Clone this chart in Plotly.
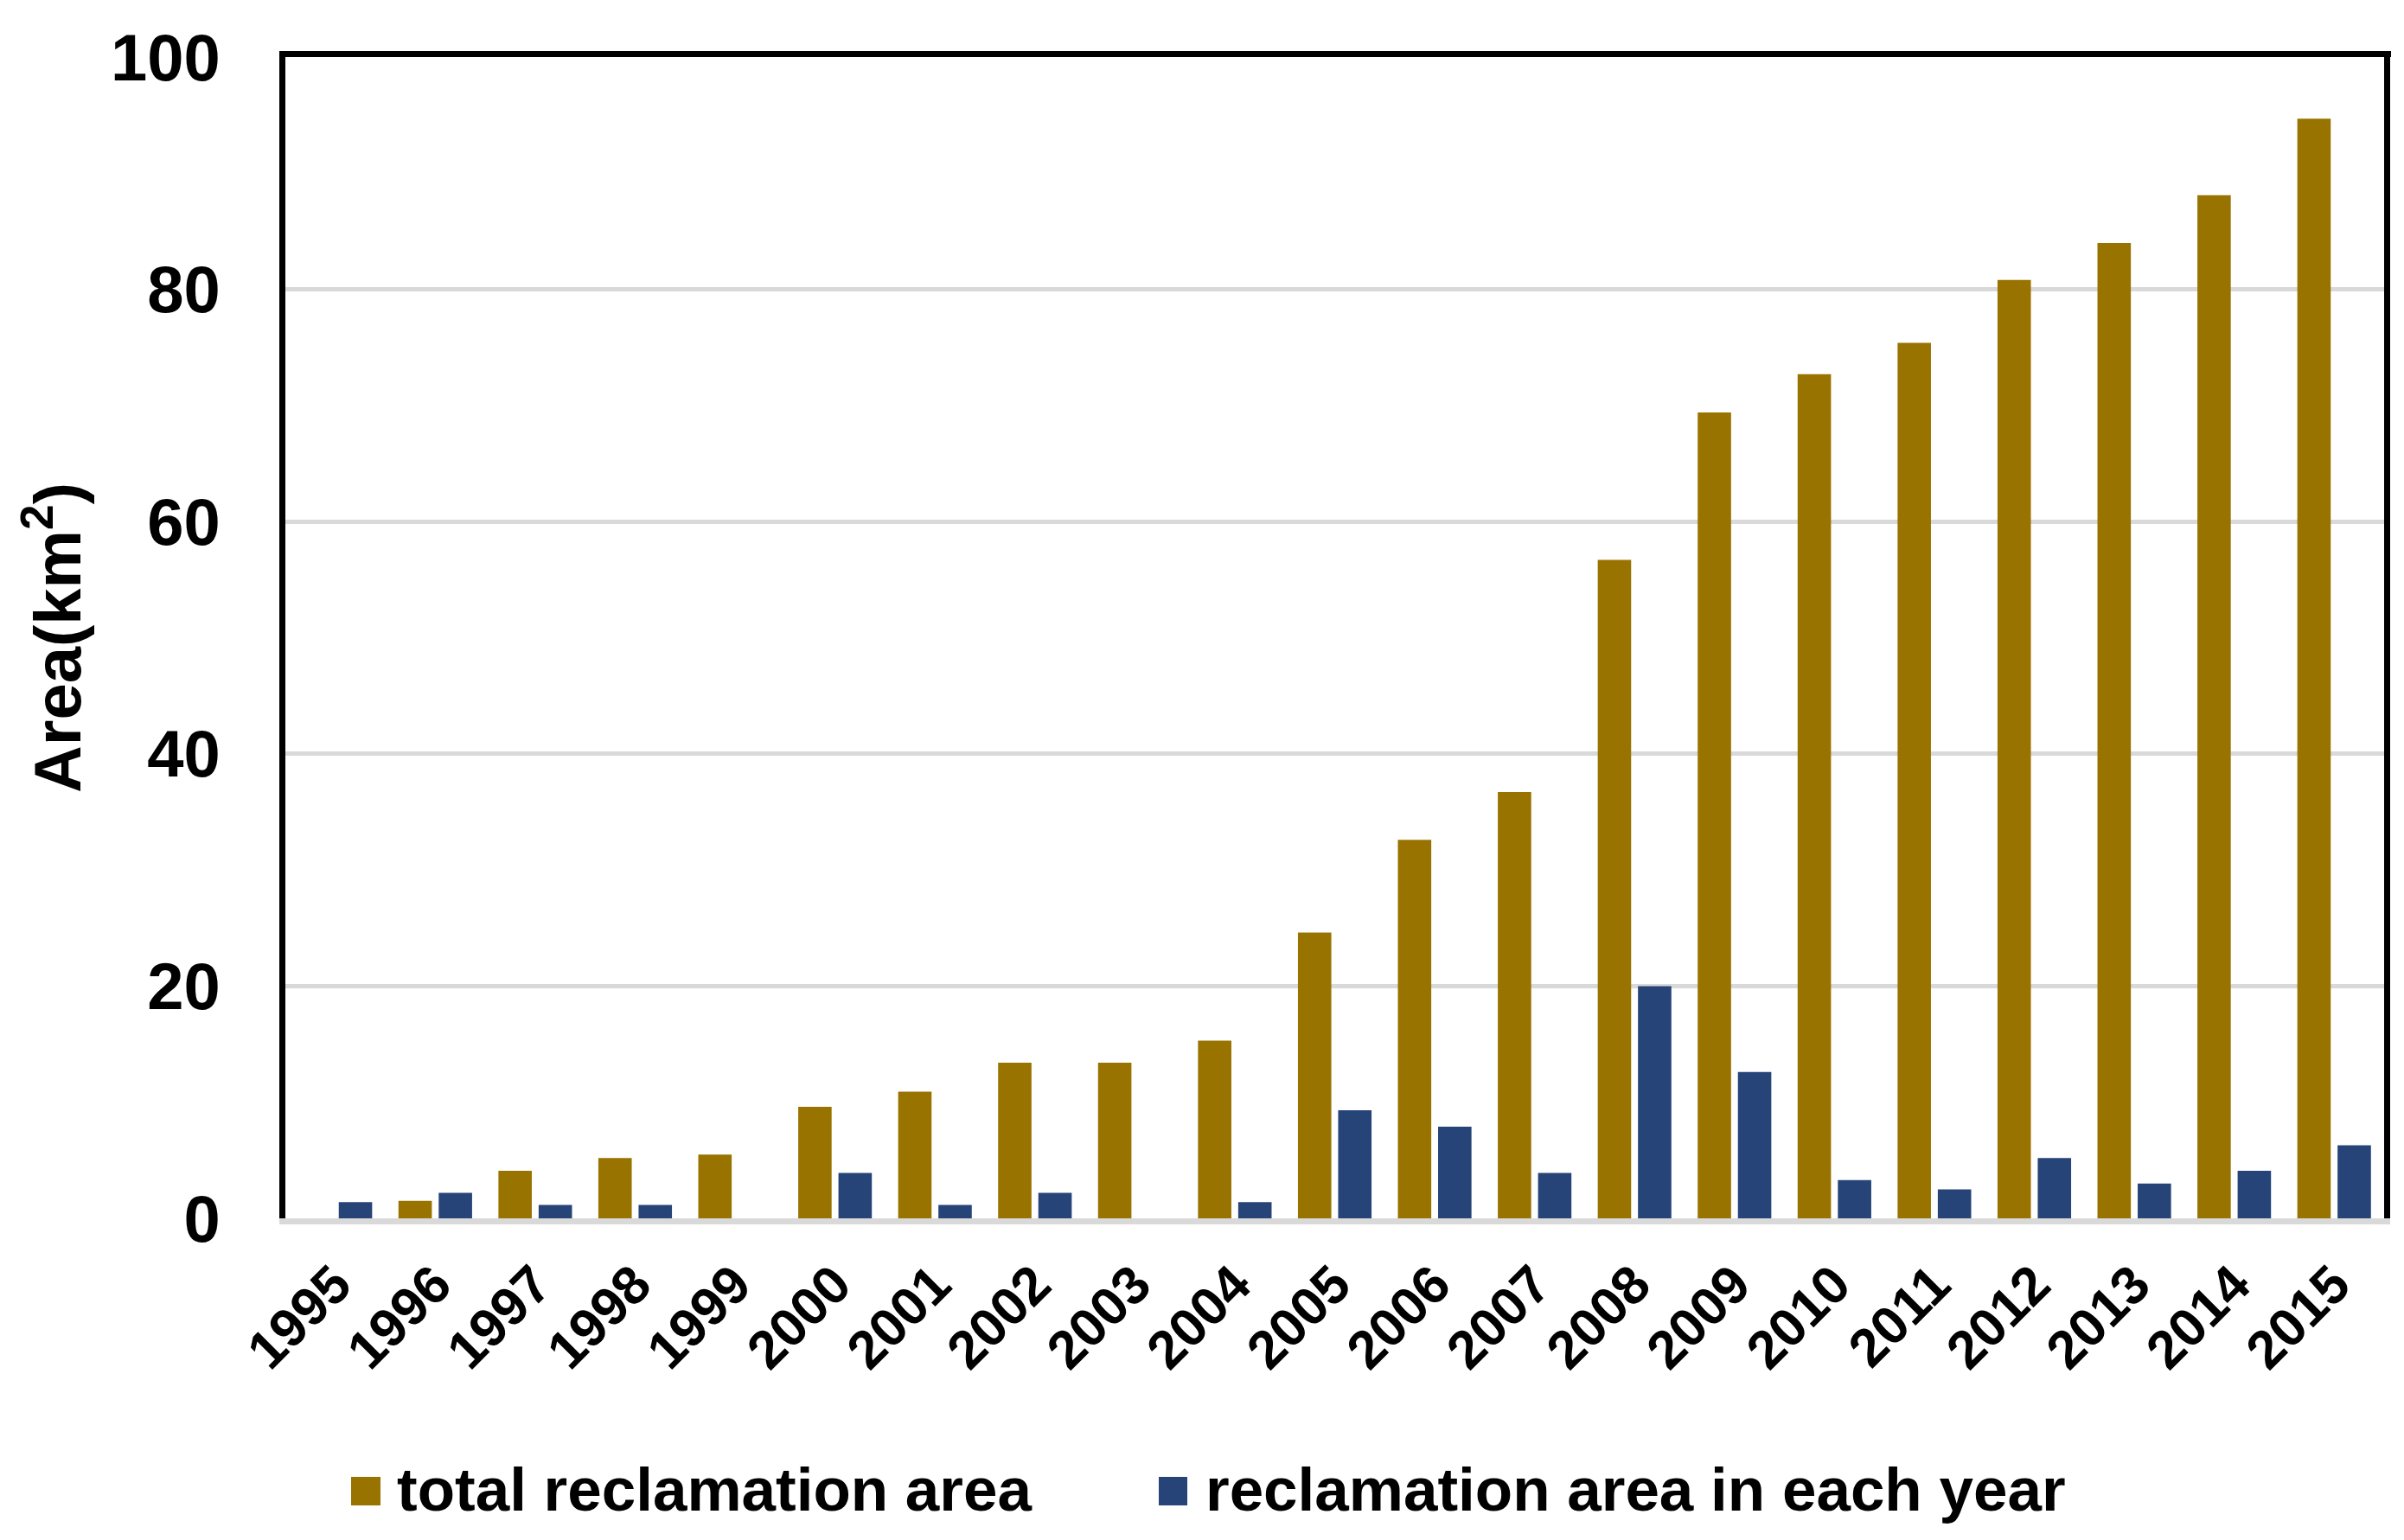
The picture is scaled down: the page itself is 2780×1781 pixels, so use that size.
import plotly.graph_objects as go

years = [str(y) for y in range(1995, 2016)]
total_area = [None, 1.5, 4.1, 5.2, 5.5, 9.6, 10.9, 13.4, 13.4, 15.3, 24.6,
              32.6, 36.7, 56.7, 69.4, 72.7, 75.4, 80.8, 84.0, 88.1, 94.7]
yearly_area = [1.4, 2.2, 1.15, 1.15, None, 3.9, 1.15, 2.2, None, 1.4, 9.3,
               7.9, 3.9, 20.0, 12.6, 3.3, 2.5, 5.2, 3.0, 4.1, 6.3]
series_names = ["total reclamation area", "reclamation area in each year"]
series_colors = ["#997300", "#264478"]
y_ticks = [0, 20, 40, 60, 80, 100]

W, H = 2780, 1781
ML, MR, MT, MB = 330, 23, 66, 372
PW, PH = W - ML - MR, H - MT - MB
FONT = "Liberation Sans, Arial, sans-serif"


def px_x(p):
    return (p - ML) / PW


def px_y(p):
    return (H - MB - p) / PH


fig = go.Figure()
fig.add_trace(go.Bar(x=years, y=total_area, name=series_names[0],
                     marker=dict(color=series_colors[0], line=dict(width=0)),
                     showlegend=False))
fig.add_trace(go.Bar(x=years, y=yearly_area, name=series_names[1],
                     marker=dict(color=series_colors[1], line=dict(width=0)),
                     showlegend=False))

shapes = [
    # top frame line
    dict(type="line", xref="paper", yref="paper",
         x0=px_x(323), x1=px_x(2765), y0=px_y(62.5), y1=px_y(62.5),
         line=dict(color="black", width=7)),
]
annotations = []
legend_items = [
    (406, 440, 457),
    (1340, 1373, 1392),
]
for (sx0, sx1, tx), name, col in zip(legend_items, series_names, series_colors):
    shapes.append(dict(type="rect", xref="paper", yref="paper",
                       x0=px_x(sx0), x1=px_x(sx1), y0=px_y(1741), y1=px_y(1708),
                       fillcolor=col, line=dict(width=0)))
    annotations.append(dict(xref="paper", yref="paper", x=px_x(tx), y=px_y(1722),
                            xanchor="left", yanchor="middle", showarrow=False,
                            text=name,
                            font=dict(family=FONT, size=71, color="black", weight="bold")))

fig.update_layout(
    width=W, height=H,
    margin=dict(l=ML, r=MR, t=MT, b=MB, autoexpand=False),
    paper_bgcolor="white", plot_bgcolor="white",
    barmode="group", bargap=0.195, bargroupgap=0.17,
    font=dict(family=FONT, color="black"),
    shapes=shapes, annotations=annotations,
    showlegend=False,
)
fig.update_xaxes(
    type="category", tickangle=-45,
    tickfont=dict(family=FONT, size=62, color="black", weight="bold"),
    showline=True, linecolor="#d9d9d9", linewidth=7,
    showgrid=False, ticks="", automargin=False, ticklabelstandoff=8,
)
fig.update_yaxes(
    range=[0, 100], tickvals=y_ticks,
    tickfont=dict(family=FONT, size=76, color="black", weight="bold"),
    showline=True, linecolor="black", linewidth=7, mirror=True,
    showgrid=True, gridcolor="#d9d9d9", gridwidth=5,
    zeroline=False, ticks="", ticklabelstandoff=53, automargin=False,
    title=dict(text="Area(km<sup>2</sup>)", standoff=12,
               font=dict(family=FONT, size=76, color="black", weight="bold")),
)

fig.write_html("out.html", config={"displayModeBar": False},
               post_script="document.body.style.margin='0';document.body.style.overflow='hidden';")
